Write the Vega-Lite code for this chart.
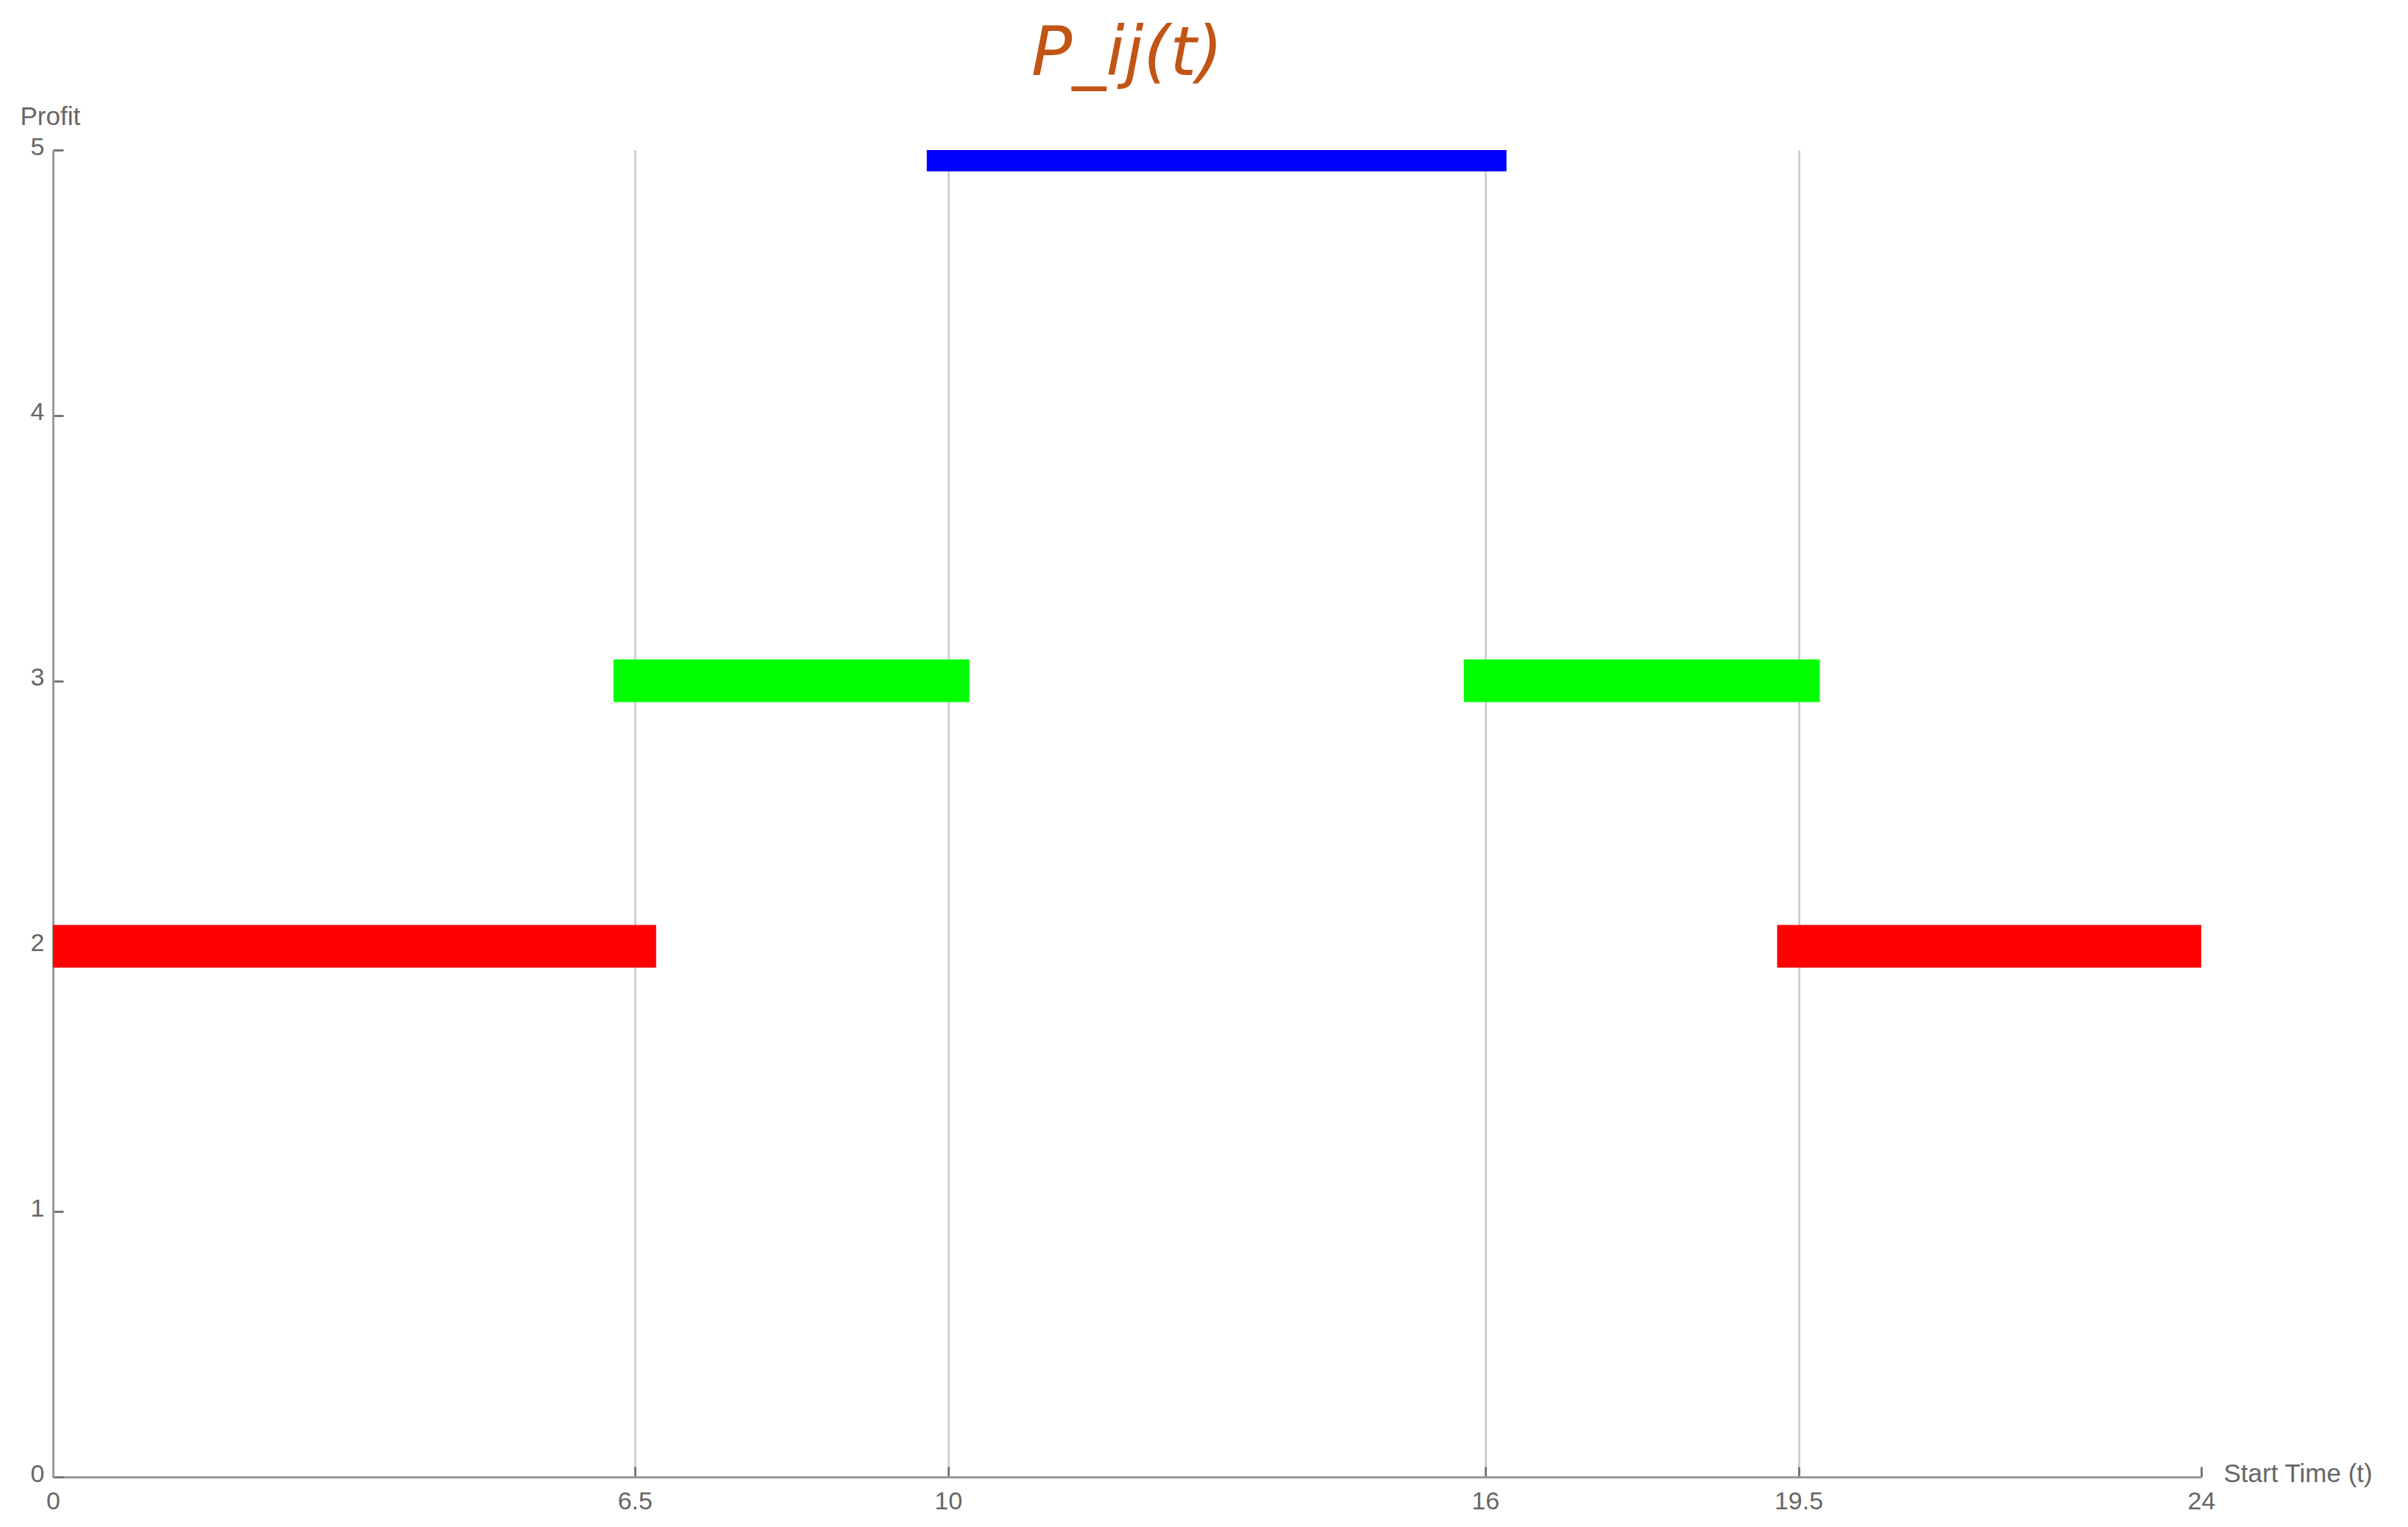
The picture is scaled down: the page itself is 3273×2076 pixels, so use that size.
{
  "$schema": "https://vega.github.io/schema/vega-lite/v6.json",
  "autosize": {"type": "none"},
  "padding": {"left": 72, "top": 204, "right": 281, "bottom": 68},
  "width": 2920,
  "height": 1804,
  "background": "white",
  "title": {
    "text": "P_ij(t)",
    "font": "DejaVu Sans",
    "fontStyle": "italic",
    "fontWeight": "normal",
    "fontSize": 92,
    "color": "#c25414",
    "anchor": "middle",
    "frame": "group",
    "baseline": "alphabetic",
    "offset": -53
  },
  "config": {
    "view": {"stroke": null},
    "axis": {
      "labelFont": "Liberation Sans",
      "labelFontSize": 34,
      "labelColor": "#666666",
      "titleFont": "Liberation Sans",
      "titleFontSize": 35,
      "titleFontWeight": "normal",
      "titleColor": "#666666",
      "domainColor": "#9a9a9a",
      "domainWidth": 3,
      "tickColor": "#777777",
      "tickWidth": 3,
      "tickSize": -14
    }
  },
  "data": {
    "values": [
      {"t0": 0, "t1": 6.5, "profit": 2, "tier": "Low"},
      {"t0": 6.5, "t1": 10, "profit": 3, "tier": "Mid"},
      {"t0": 10, "t1": 16, "profit": 5, "tier": "High"},
      {"t0": 16, "t1": 19.5, "profit": 3, "tier": "Mid"},
      {"t0": 19.5, "t1": 24, "profit": 2, "tier": "Low"}
    ]
  },
  "mark": {"type": "rule", "strokeWidth": 58, "strokeCap": "square", "clip": true},
  "encoding": {
    "x": {
      "field": "t0",
      "type": "quantitative",
      "scale": {"domain": [0, 24], "nice": false, "zero": false},
      "axis": {
        "title": "Start Time (t)",
        "values": [0, 6.5, 10, 16, 19.5, 24],
        "labelExpr": "toString(datum.value)",
        "labelPadding": 30,
        "labelFlush": false,
        "grid": true,
        "gridColor": "#cfcfcf",
        "gridWidth": 3,
        "gridOpacity": {"condition": {"test": "datum.value == 0 || datum.value == 24", "value": 0}, "value": 1},
        "titleAngle": 0,
        "titleAlign": "left",
        "titleBaseline": "middle",
        "titleX": 2950,
        "titleY": -5
      }
    },
    "x2": {"field": "t1"},
    "y": {
      "field": "profit",
      "type": "quantitative",
      "scale": {"domain": [0, 5], "nice": false},
      "axis": {
        "title": "Profit",
        "values": [0, 1, 2, 3, 4, 5],
        "format": "d",
        "grid": false,
        "labelPadding": 26,
        "labelOffset": -4,
        "labelFlush": false,
        "titleAngle": 0,
        "titleAlign": "left",
        "titleBaseline": "alphabetic",
        "titleX": -45,
        "titleY": -35
      }
    },
    "color": {
      "field": "tier",
      "type": "nominal",
      "scale": {"domain": ["Low", "Mid", "High"], "range": ["#ff0000", "#00ff00", "#0000ff"]},
      "legend": null
    }
  }
}
